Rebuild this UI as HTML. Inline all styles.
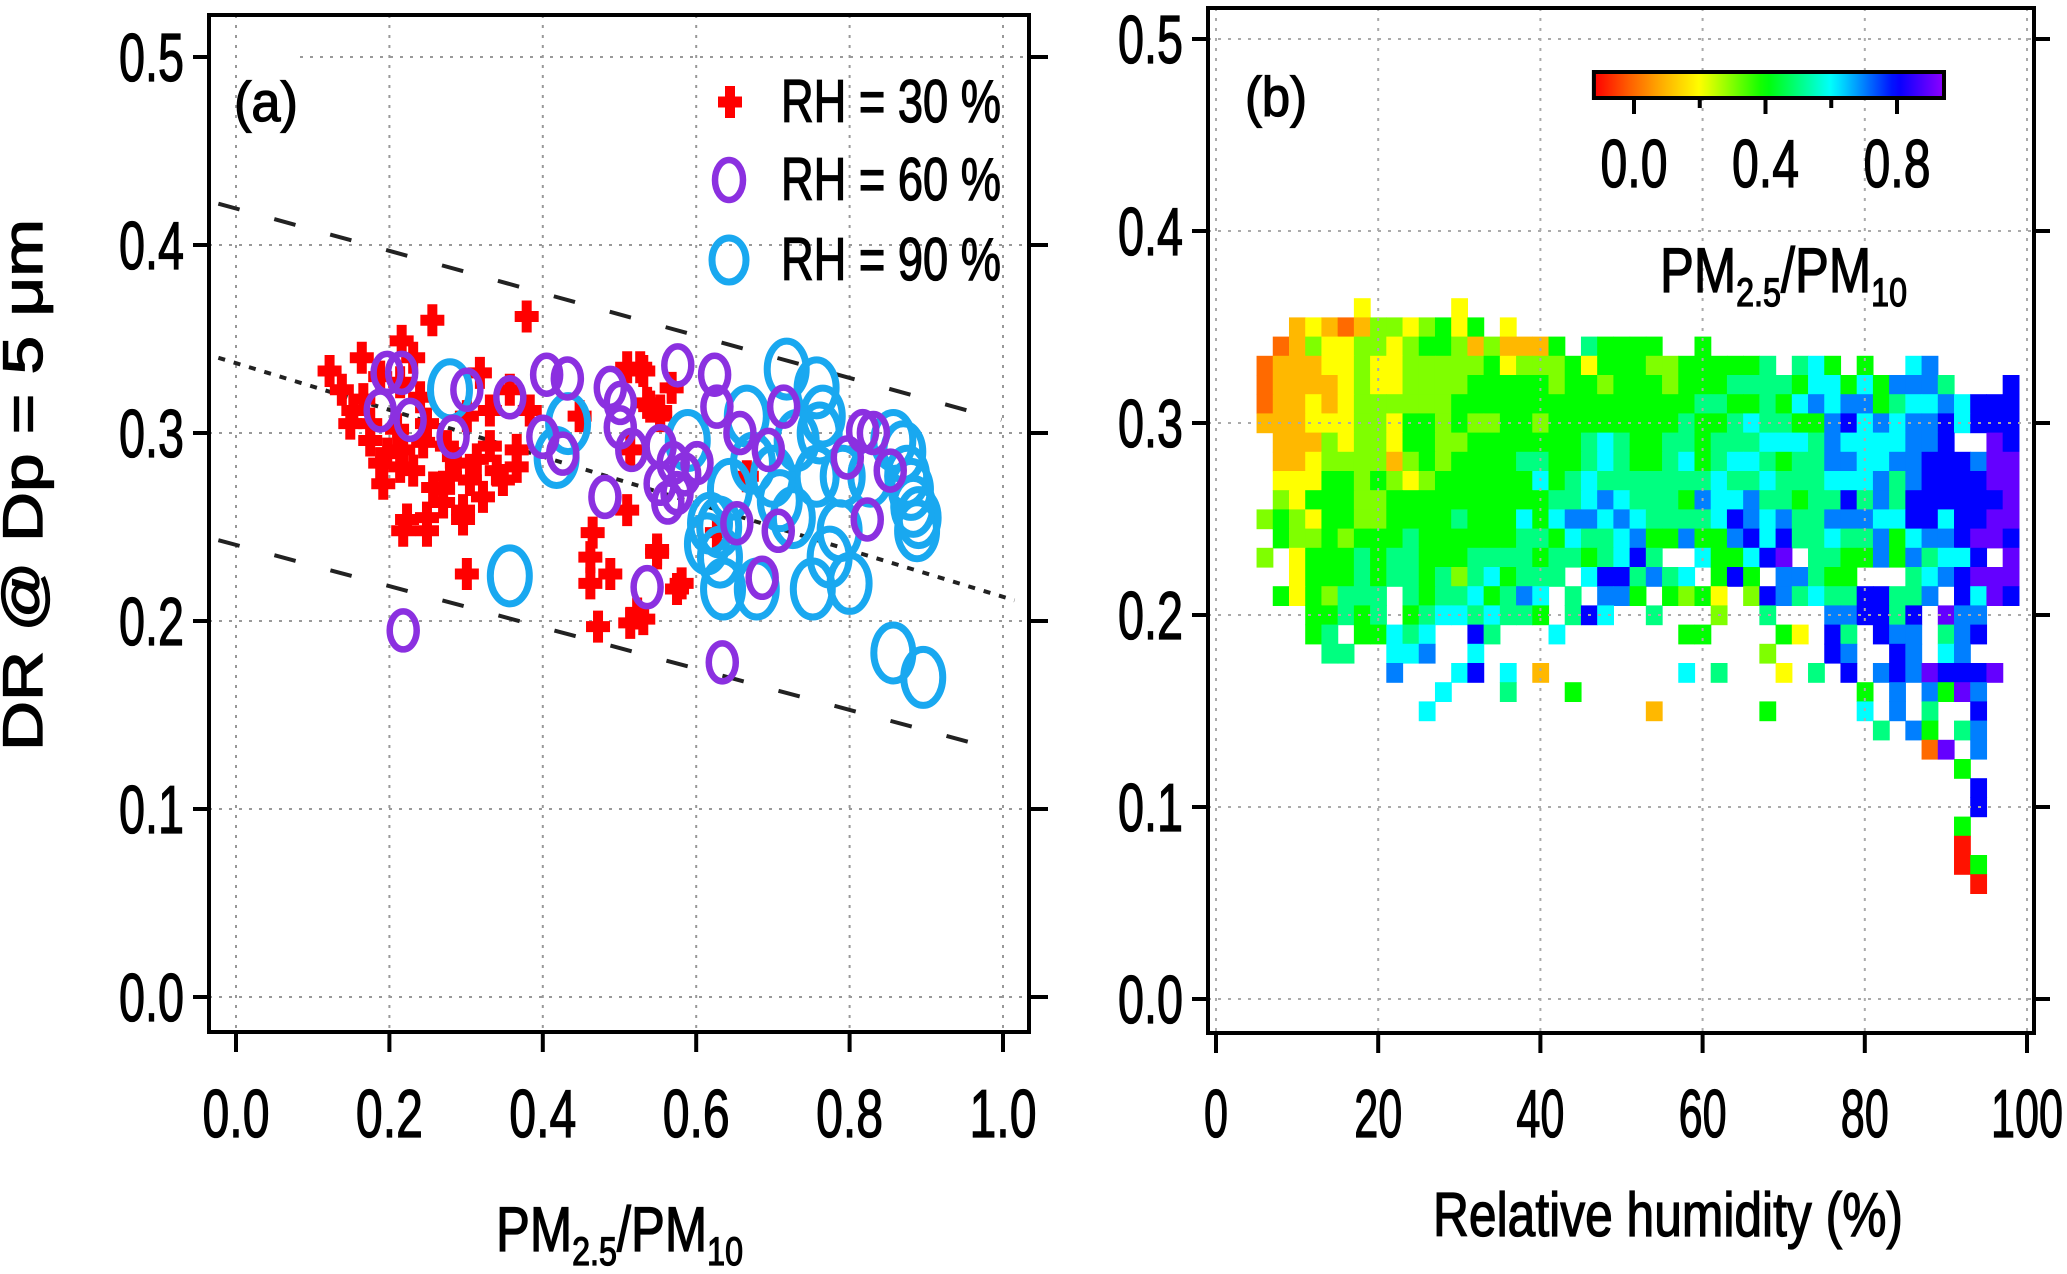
<!DOCTYPE html>
<html><head><meta charset="utf-8"><style>
html,body{margin:0;padding:0;background:#fff;}
svg{display:block;}
text{font-family:"Liberation Sans",Arial,sans-serif;fill:#000;stroke:#000;stroke-width:1.3px;}
</style></head><body>
<svg id="fig" width="2067" height="1274" viewBox="0 0 2067 1274" xmlns="http://www.w3.org/2000/svg">
  <g id="pa"></g>
  <g id="pb"></g>
</svg>
<script>
// ---------- Panel (a) data ----------
const xTicksA = [0.0, 0.2, 0.4, 0.6, 0.8, 1.0];
const xTickLabelsA = ["0.0", "0.2", "0.4", "0.6", "0.8", "1.0"];
const yTicks = [0.0, 0.1, 0.2, 0.3, 0.4, 0.5];
const yTickLabels = ["0.0", "0.1", "0.2", "0.3", "0.4", "0.5"];
const redPoints = [[.256,.360],[.379,.362],[.216,.349],[.122,.333],[.164,.340],[.231,.340],[.318,.332],[.357,.323],[.138,.323],[.153,.312],[.149,.305],[.175,.296],[.197,.289],[.218,.291],[.244,.295],[.231,.280],[.192,.273],[.257,.271],[.279,.277],[.314,.286],[.340,.280],[.366,.282],[.348,.275],[.322,.266],[.296,.259],[.270,.263],[.249,.255],[.223,.254],[.218,.248],[.249,.248],[.296,.254],[.301,.225],[.331,.312],[.301,.309],[.383,.312],[.448,.309],[.510,.335],[.527,.335],[.536,.316],[.553,.312],[.514,.291],[.510,.259],[.465,.247],[.462,.234],[.462,.220],[.488,.225],[.549,.238],[.472,.197],[.514,.199],[.523,.204],[.188,.330],[.214,.327],[.240,.319],[.166,.318],[.175,.305],[.210,.302],[.249,.305],[.275,.293],[.288,.284],[.331,.293],[.188,.284],[.214,.282],[.270,.270],[.366,.291],[.305,.275],[.531,.333],[.568,.324],[.540,.314],[.553,.309],[.666,.277],[.549,.236],[.581,.220],[.531,.201],[.627,.247],[.575,.217]];
const purplePoints = [[.197,.332],[.216,.332],[.188,.312],[.227,.307],[.301,.323],[.283,.298],[.357,.319],[.405,.331],[.432,.329],[.488,.324],[.501,.316],[.501,.303],[.516,.291],[.400,.298],[.426,.289],[.481,.266],[.536,.218],[.218,.195],[.576,.336],[.624,.331],[.627,.314],[.657,.300],[.694,.291],[.714,.314],[.570,.284],[.553,.293],[.601,.284],[.563,.263],[.553,.273],[.653,.252],[.707,.248],[.686,.223],[.797,.287],[.817,.301],[.831,.300],[.853,.280],[.823,.254],[.634,.178],[.585,.278],[.575,.268]];
const bluePoints = [[.279,.323],[.433,.305],[.418,.287],[.357,.224],[.718,.334],[.757,.324],[.666,.309],[.589,.296],[.761,.300],[.765,.309],[.644,.270],[.618,.252],[.635,.217],[.679,.217],[.709,.264],[.757,.277],[.726,.255],[.787,.248],[.752,.217],[.800,.220],[.857,.296],[.875,.277],[.883,.261],[.888,.248],[.857,.183],[.896,.170],[.700,.277],[.674,.284],[.791,.277],[.731,.296],[.827,.277],[.631,.234],[.614,.241],[.774,.234],[.870,.290],[.880,.270],[.890,.255],[.630,.250]];
const upperLine = [-0.023, 0.422, 0.998, 0.307];
const middleLine = [-0.023, 0.340, 1.015, 0.211];
const lowerLine = [-0.023, 0.243, 0.998, 0.131];

// ---------- Panel (b) data ----------
const xTicksB = [0, 20, 40, 60, 80, 100];
const xTickLabelsB = ["0", "20", "40", "60", "80", "100"];
const rhBins = [6,8,10,12,14,16,18,20,22,24,26,28,30,32,34,36,38,40,42,44,46,48,50,52,54,56,58,60,62,64,66,68,70,72,74,76,78,80,82,84,86,88,90,92,94,96,98];
const drBins = [0.36,0.35,0.34,0.33,0.32,0.31,0.30,0.29,0.28,0.27,0.26,0.25,0.24,0.23,0.22,0.21,0.20,0.19,0.18,0.17,0.16,0.15,0.14,0.13,0.12,0.11,0.10,0.09,0.08,0.07,0.06];
const cellRows = [
"......3... ..3....... .......... .......... .......",
"..23212443 4535.3.... .......... .......... .......",
".124334434 554242225. 65555..5.. .......... .......",
"1222334334 4444534445 3555445555 56.675.5.. 78.....",
"1222234334 4445555545 5455545556 6665775758 886...9",
"1223234444 4455555555 5555555665 5657878856 7787999",
"2223334435 5454455455 5555556556 7665589787 8897999",
".222434435 5445555555 6765566566 6777687777 889..a9",
".223444424 5455556655 6765567567 7656688778 89998aa",
".333554543 4555555756 7666666676 6766677786 89999aa",
".435554455 5555555566 7876665877 8665669686 999999a",
"4543554455 5565557578 8787666679 8786688877 99799aa",
".544545556 5555556657 6678558558 9796676685 7889aa9",
"4.35556566 5556666566 56796..755 79a.665585 86779.a",
"..35556566 564675666. 7996867.59 5.88655... 6789aaa",
".5354666.6 56675687.6 .885.5453. 4986766996 68.97a9",
"...55656.5 67767665.6 97..6...4. .6...88996 9.a88..",
"...56.5576 7..96...7. ......55.. ..53.96.98 8.689..",
"....66..77 8..7...... .......... .4...98..9 8.78...",
"........8. ..79.7.2.. ......7.6. ..3.6.9.89 8a999a.",
".......... .7...6...5 .......... .......5.8 .85a8..",
".......... 7......... ....2..... .5.....7.8 .6..9..",
".......... .......... .......... ........6. 85.68..",
".......... .......... .......... .......... .1a.8..",
".......... .......... .......... .......... ...5...",
".......... .......... .......... .......... ....9..",
".......... .......... .......... .......... ....9..",
".......... .......... .......... .......... ...5...",
".......... .......... .......... .......... ...0...",
".......... .......... .......... .......... ...05..",
".......... .......... .......... .......... ....0.."
];
const cbTicks = [0.0, 0.2, 0.4, 0.6, 0.8];
const cbTickLabels = ["0.0", "", "0.4", "", "0.8"];
const cbRange = [-0.122, 0.943];

const NS = "http://www.w3.org/2000/svg";
function mk(tag, attrs, parent) {
  const e = document.createElementNS(NS, tag);
  for (const k in attrs) e.setAttribute(k, attrs[k]);
  parent.appendChild(e);
  return e;
}
function txt(parent, s, x, y, size, anchor, len) {
  const t = mk("text", {x: x, y: y, "font-size": size, "text-anchor": anchor}, parent);
  if (len) { t.setAttribute("textLength", len); t.setAttribute("lengthAdjust", "spacingAndGlyphs"); }
  t.textContent = s;
  return t;
}
function cmap(v) {
  const st = [[-0.12,255,0,0],[-0.02,255,90,0],[0.08,255,170,0],[0.2,255,255,0],[0.4,0,255,0],[0.6,0,255,255],[0.8,0,0,255],[0.95,150,0,255]];
  if (v <= st[0][0]) return "rgb(255,0,0)";
  for (let i = 1; i < st.length; i++) {
    if (v <= st[i][0]) {
      const a = st[i-1], b = st[i], t = (v - a[0]) / (b[0] - a[0]);
      return "rgb(" + Math.round(a[1]+(b[1]-a[1])*t) + "," + Math.round(a[2]+(b[2]-a[2])*t) + "," + Math.round(a[3]+(b[3]-a[3])*t) + ")";
    }
  }
  return "rgb(150,0,255)";
}

// ================= Panel (a) =================
const pa = document.getElementById("pa");
const A = {l: 209, r: 1029, t: 15, b: 1032};
const xA = v => 236 + v * 767;
const yA = v => 997 - v * 1880;

const gridA = mk("g", {}, pa);


xTicksA.forEach(v => mk("line", {x1: xA(v), x2: xA(v), y1: A.t, y2: A.b, stroke: "#999", "stroke-width": 2, "stroke-dasharray": "3 7"}, gridA));
yTicks.forEach(v => mk("line", {x1: v === 0.5 ? 300 : A.l, x2: A.r, y1: yA(v), y2: yA(v), stroke: "#999", "stroke-width": 2, "stroke-dasharray": "3 7"}, gridA));

function fitLine(arr, dash, name) {
  const l = mk("line", {x1: xA(arr[0]), y1: yA(arr[1]), x2: xA(arr[2]), y2: yA(arr[3]), stroke: "#222", "stroke-width": 4, "stroke-dasharray": dash}, pa);
  
  
}
fitLine(upperLine, "22 36", "upper-bound-line");
fitLine(middleLine, "7 9", "fit-line");
fitLine(lowerLine, "22 36", "lower-bound-line");

function crossPath(cx, cy) {
  const w = 12, h = 16, aw = 5, ah = 5.5;
  return "M" + (cx-aw) + " " + (cy-h) + "H" + (cx+aw) + "V" + (cy-ah) + "H" + (cx+w) + "V" + (cy+ah) + "H" + (cx+aw) + "V" + (cy+h) + "H" + (cx-aw) + "V" + (cy+ah) + "H" + (cx-w) + "V" + (cy-ah) + "H" + (cx-aw) + "Z";
}
const redG = mk("g", {fill: "#ff0000"}, pa);


redPoints.forEach(p => {
  const m = mk("path", {d: crossPath(xA(p[0]), yA(p[1]))}, redG);
  
  
});
const blueG = mk("g", {fill: "none", stroke: "#19a8f0", "stroke-width": 7}, pa);


bluePoints.forEach(p => {
  const m = mk("ellipse", {cx: xA(p[0]), cy: yA(p[1]), rx: 19.5, ry: 28}, blueG);
  
  
});
const purpleG = mk("g", {fill: "none", stroke: "#8b30e0", "stroke-width": 6.5}, pa);


purplePoints.forEach(p => {
  const m = mk("ellipse", {cx: xA(p[0]), cy: yA(p[1]), rx: 13.5, ry: 19}, purpleG);
  
  
});

const frameA = mk("rect", {x: A.l, y: A.t, width: A.r - A.l, height: A.b - A.t, fill: "none", stroke: "#000", "stroke-width": 4}, pa);


const axA = mk("g", {stroke: "#000", "stroke-width": 4}, pa);


yTicks.forEach(v => {
  mk("line", {x1: 193, x2: A.l, y1: yA(v), y2: yA(v)}, axA);
  mk("line", {x1: A.r, x2: 1048, y1: yA(v), y2: yA(v)}, axA);
});
xTicksA.forEach(v => mk("line", {x1: xA(v), x2: xA(v), y1: A.b, y2: A.b + 20}, axA));
yTickLabels.forEach((s, i) => {
  const t = txt(pa, s, 184, yA(yTicks[i]) + 24, 68, "end", 65);
  
  
});
xTickLabelsA.forEach((s, i) => {
  const t = txt(pa, s, xA(xTicksA[i]), 1137, 68, "middle", 67);
  
  
});
const yTitle = mk("text", {x: 0, y: 0, "font-size": 56, "text-anchor": "middle", transform: "translate(42,485) rotate(-90)", textLength: 532, lengthAdjust: "spacingAndGlyphs"}, pa);
yTitle.textContent = "DR @ Dp = 5 μm";


const xtA = mk("text", {x: 496, y: 1251, "font-size": 63, textLength: 247, lengthAdjust: "spacingAndGlyphs"}, pa);
xtA.innerHTML = 'PM<tspan font-size="40" dy="14">2.5</tspan><tspan dy="-14">/PM</tspan><tspan font-size="40" dy="14">10</tspan>';


const labA = txt(pa, "(a)", 234, 121, 56, "start", 64);


const leg = mk("g", {}, pa);


const l1 = mk("path", {d: crossPath(730, 102), fill: "#ff0000"}, leg);


const l2 = mk("ellipse", {cx: 729, cy: 180, rx: 14, ry: 20, fill: "none", stroke: "#8b30e0", "stroke-width": 6.5}, leg);


const l3 = mk("ellipse", {cx: 729, cy: 260, rx: 17, ry: 22, fill: "none", stroke: "#19a8f0", "stroke-width": 7}, leg);


[["RH = 30 %", 122], ["RH = 60 %", 200], ["RH = 90 %", 280]].forEach(r => {
  const t = txt(leg, r[0], 781, r[1], 60, "start", 220);
  
  
});

// ================= Panel (b) =================
const pb = document.getElementById("pb");
const B = {l: 1208, r: 2034, t: 8, b: 1033};
const xB = v => 1216 + v * 8.11;
const yB = v => 999 - v * 1920;

const cells = mk("g", {}, pb);


cellRows.forEach((row, ri) => {
  const s = row.replace(/ /g, "");
  for (let ci = 0; ci < rhBins.length && ci < s.length; ci++) {
    const ch = s[ci];
    if (ch === ".") continue;
    const val = parseInt(ch, 16) / 10 - 0.1;
    const x0 = xB(rhBins[ci] - 1), x1 = xB(rhBins[ci] + 1);
    const y0 = yB(drBins[ri] + 0.005), y1 = yB(drBins[ri] - 0.005);
    const c = mk("rect", {x: x0, y: y0, width: x1 - x0 + 0.6, height: y1 - y0 + 0.6, fill: cmap(val)}, cells);
    
    
  }
});

const gridB = mk("g", {}, pb);


xTicksB.forEach(v => mk("line", {x1: xB(v), x2: xB(v), y1: B.t, y2: B.b, stroke: "#aaa", "stroke-width": 2, "stroke-dasharray": "3 7"}, gridB));
yTicks.forEach(v => mk("line", {x1: B.l, x2: B.r, y1: yB(v), y2: yB(v), stroke: "#aaa", "stroke-width": 2, "stroke-dasharray": "3 7"}, gridB));

const frameB = mk("rect", {x: B.l, y: B.t, width: B.r - B.l, height: B.b - B.t, fill: "none", stroke: "#000", "stroke-width": 4}, pb);


const axB = mk("g", {stroke: "#000", "stroke-width": 4}, pb);


yTicks.forEach(v => {
  mk("line", {x1: 1192, x2: B.l, y1: yB(v), y2: yB(v)}, axB);
  mk("line", {x1: B.r, x2: 2050, y1: yB(v), y2: yB(v)}, axB);
});
xTicksB.forEach(v => mk("line", {x1: xB(v), x2: xB(v), y1: B.b, y2: B.b + 20}, axB));
yTickLabels.forEach((s, i) => {
  const t = txt(pb, s, 1183, yB(yTicks[i]) + 24, 68, "end", 65);
  
  
});
xTickLabelsB.forEach((s, i) => {
  const t = txt(pb, s, xB(xTicksB[i]), 1137, 68, "middle", 24 * s.length);
  
  
});
const xtB = txt(pb, "Relative humidity (%)", 1668, 1236, 62, "middle", 470);


const labB = txt(pb, "(b)", 1245, 116, 56, "start", 62);



const cbX = v => 1634 + v * 328.75;
const defs = mk("defs", {}, document.getElementById("fig"));
const grad = mk("linearGradient", {id: "cbg", x1: 0, x2: 1, y1: 0, y2: 0}, defs);
for (let i = 0; i <= 40; i++) {
  const v = cbRange[0] + (cbRange[1] - cbRange[0]) * i / 40;
  mk("stop", {offset: (i / 40), "stop-color": cmap(v)}, grad);
}
const cb = mk("g", {}, pb);


const cbr = mk("rect", {x: cbX(cbRange[0]), y: 72, width: cbX(cbRange[1]) - cbX(cbRange[0]), height: 26, fill: "url(#cbg)", stroke: "#000", "stroke-width": 4}, cb);


cbTicks.forEach((v, i) => {
  mk("line", {x1: cbX(v), x2: cbX(v), y1: 98, y2: cbTickLabels[i] ? 114 : 108, stroke: "#000", "stroke-width": 4}, cb);
  if (cbTickLabels[i]) {
    const t = txt(cb, cbTickLabels[i], cbX(v), 187, 68, "middle", 67);
    
    
  }
});
const cbt = mk("text", {x: 1660, y: 292, "font-size": 63, textLength: 247, lengthAdjust: "spacingAndGlyphs"}, cb);
cbt.innerHTML = 'PM<tspan font-size="40" dy="14">2.5</tspan><tspan dy="-14">/PM</tspan><tspan font-size="40" dy="14">10</tspan>';


</script>
</body></html>
